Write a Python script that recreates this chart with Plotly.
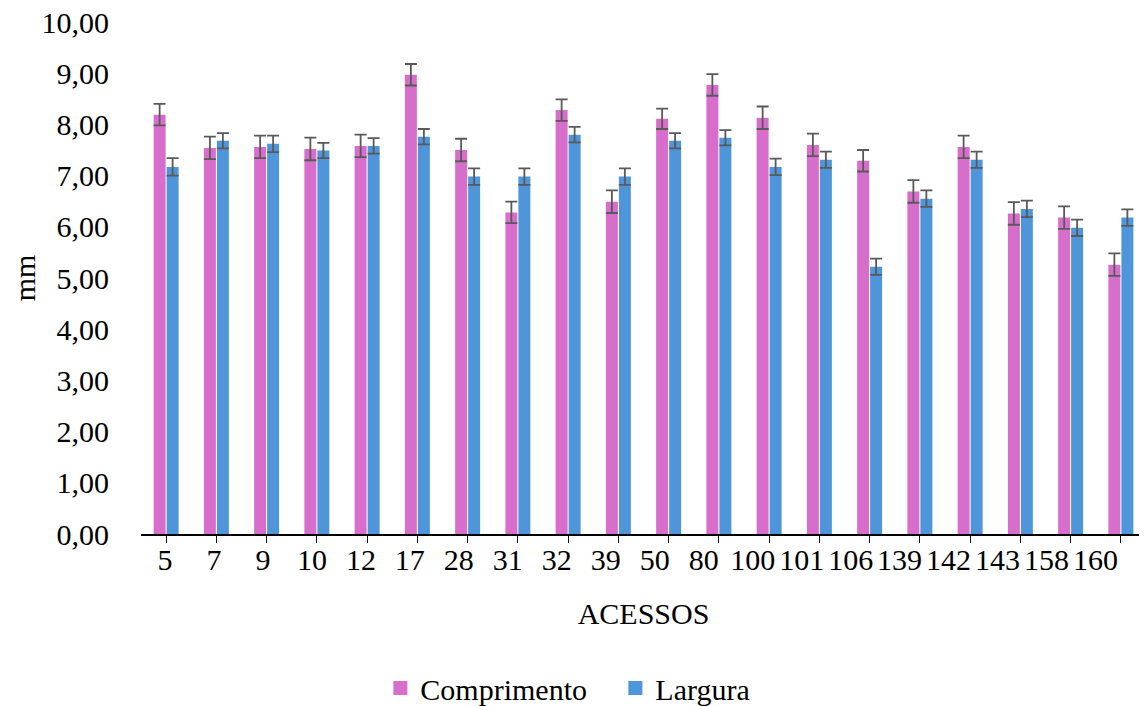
import plotly.graph_objects as go

categories = ["5", "7", "9", "10", "12", "17", "28", "31", "32", "39",
              "50", "80", "100", "101", "106", "139", "142", "143", "158", "160"]
comprimento = [8.19, 7.54, 7.56, 7.52, 7.58, 8.97, 7.50, 6.28, 8.28, 6.49,
               8.11, 8.77, 8.13, 7.60, 7.29, 6.69, 7.56, 6.26, 6.18, 5.26]
comprimento_err = [0.21, 0.22, 0.22, 0.22, 0.22, 0.21, 0.22, 0.21, 0.21, 0.22,
                   0.20, 0.21, 0.22, 0.22, 0.21, 0.22, 0.22, 0.22, 0.22, 0.22]
largura = [7.17, 7.68, 7.62, 7.49, 7.58, 7.76, 6.98, 6.98, 7.80, 6.98,
           7.68, 7.74, 7.17, 7.31, 5.22, 6.55, 7.31, 6.35, 5.98, 6.18]
largura_err = [0.17, 0.15, 0.16, 0.15, 0.15, 0.15, 0.16, 0.16, 0.15, 0.16,
               0.15, 0.15, 0.16, 0.16, 0.16, 0.16, 0.16, 0.16, 0.16, 0.16]
y_ticks = [0, 1, 2, 3, 4, 5, 6, 7, 8, 9, 10]
series_names = ["Comprimento", "Largura"]
series_colors = ["#D86ECC", "#4E95D9"]

FONT = "Liberation Serif"
FS = 30
err_style = dict(type="data", color="#595959", thickness=1.8, width=6, visible=True)

fig = go.Figure()
fig.add_trace(go.Bar(name=series_names[0], x=categories, y=comprimento, showlegend=False,
                     marker=dict(color=series_colors[0], line=dict(width=0)),
                     error_y=dict(array=comprimento_err, **err_style)))
fig.add_trace(go.Bar(name=series_names[1], x=categories, y=largura, showlegend=False,
                     marker=dict(color=series_colors[1], line=dict(width=0)),
                     error_y=dict(array=largura_err, **err_style)))
# legend entries with square swatches
for name, color in zip(series_names, series_colors):
    fig.add_trace(go.Scatter(name=name, x=[None], y=[None], mode="markers",
                             marker=dict(symbol="square", size=14, color=color),
                             showlegend=True))
# helper axis carrying the category labels (packed slightly tighter than the ticks)
label_pos = list(range(len(categories)))
fig.add_trace(go.Scatter(x=[None], y=[None], xaxis="x2", showlegend=False,
                         hoverinfo="skip", mode="markers"))

# the page body adds an 8px offset, so the figure is 8px smaller
fig.update_layout(
    width=1139, height=698,
    margin=dict(l=133, r=1, t=14, b=172, autoexpand=False),
    paper_bgcolor="white", plot_bgcolor="white",
    barmode="group", bargap=0.483, bargroupgap=0.077,
    separators=",.",
    font=dict(family=FONT, size=FS, color="black"),
    showlegend=True,
    legend=dict(orientation="h", x=0.472, xanchor="center", y=-0.301, yanchor="middle",
                font=dict(family=FONT, size=FS), itemwidth=30, tracegroupgap=0,
                entrywidth=190, bgcolor="rgba(0,0,0,0)"),
    xaxis=dict(type="category", showline=True, linecolor="black", linewidth=1.5,
               ticks="outside", ticklen=7, tickcolor="black", tickwidth=1.2,
               showticklabels=False, automargin=False, showgrid=False),
    xaxis2=dict(overlaying="x", anchor="y", side="bottom", type="linear",
                range=[-0.490, 20.031], tickvals=label_pos, ticktext=categories,
                showline=False, ticks="", showgrid=False, zeroline=False,
                ticklabelstandoff=5, tickfont=dict(size=FS), automargin=False,
                ticklabeloverflow="allow",
                title=dict(text="ACESSOS", font=dict(size=FS), standoff=27)),
    yaxis=dict(range=[0, 10], tickvals=y_ticks, tickformat=".2f",
               showline=False, zeroline=False, showgrid=False, ticks="",
               ticklabelstandoff=31, tickfont=dict(size=FS), automargin=False,
               ticklabeloverflow="allow",
               title=dict(text="mm", font=dict(size=FS), standoff=0)),
)

fig.write_html("out.html")
